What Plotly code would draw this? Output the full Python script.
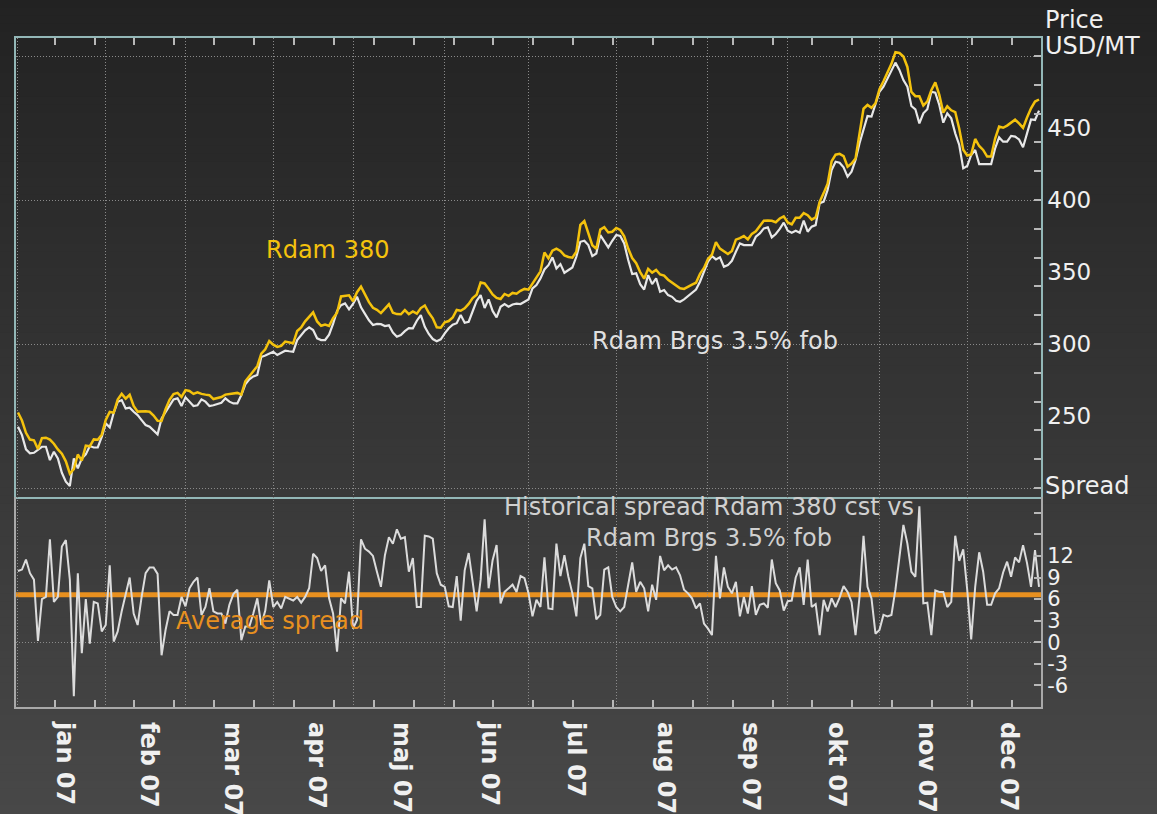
import pandas as pd
import plotly.graph_objects as go

# ---------------- data ----------------
holidays = ["2007-04-06", "2007-12-25", "2007-12-26"]
dates = [d.strftime("%Y-%m-%d") for d in pd.bdate_range("2007-01-02", "2007-12-31")
         if d.strftime("%Y-%m-%d") not in holidays]

month_labels = ["jan 07", "feb 07", "mar 07", "apr 07", "maj 07", "jun 07",
                "jul 07", "aug 07", "sep 07", "okt 07", "nov 07", "dec 07"]
price_ticks = [250, 300, 350, 400, 450]
spread_ticks = [-6, -3, 0, 3, 6, 9, 12]

# Rdam Brgs 3.5% fob, USD/MT
brgs = [
    242.6, 236.8, 226.9, 224.1, 224.5, 226.9, 228.7, 228.7, 219.4, 225.2,
    220.6, 210.6, 204.4, 201.4, 220.6, 213.7, 220.6, 223.4, 229.2, 228.2,
    228.2, 235.6, 244.9, 242.2, 252.3, 259.9, 261.1, 255.3, 255.8, 253.0,
    250.7, 247.2, 243.8, 242.6, 240.0, 237.3, 248.4, 253.0, 257.0, 261.5,
    262.3, 257.0, 263.0, 259.9, 257.0, 257.5, 261.6, 260.0, 257.0, 257.5,
    258.5, 259.2, 262.3, 260.0, 258.8, 258.8, 264.6, 272.0, 275.5, 277.5,
    278.5, 291.0, 292.0, 293.5, 294.7, 292.4, 294.0, 295.4, 295.0, 294.7,
    302.8, 306.0, 309.5, 311.6, 309.7, 304.0, 302.8, 302.8, 306.5, 314.0,
    323.0, 327.0, 328.2, 324.1, 327.8, 332.9, 325.5, 321.0, 316.5, 313.2,
    314.0, 313.8, 312.5, 313.0, 308.0, 305.1, 306.3, 309.0, 311.0, 310.9,
    316.2, 320.1, 312.0, 307.0, 303.5, 302.0, 303.3, 307.4, 311.0, 313.5,
    314.5, 320.1, 314.8, 315.5, 323.5, 330.0, 334.0, 325.0, 331.0, 323.0,
    318.5, 325.9, 327.8, 326.0, 327.5, 328.0, 327.8, 329.4, 331.0, 338.6,
    341.0, 345.6, 351.8, 354.8, 360.2, 352.5, 355.5, 349.5, 351.4, 353.2,
    360.6, 371.0, 371.7, 368.7, 361.1, 362.9, 375.7, 371.0, 367.1, 371.7,
    375.7, 375.0, 369.9, 358.3, 348.6, 349.1, 341.6, 337.9, 347.9, 341.6,
    345.6, 336.3, 337.5, 334.0, 332.8, 330.1, 329.4, 331.0, 333.3, 335.2,
    337.9, 343.3, 350.2, 357.2, 361.1, 358.8, 360.2, 353.7, 354.8, 357.8,
    364.1, 369.9, 368.7, 368.7, 368.7, 374.5, 376.8, 380.3, 381.0, 374.1,
    376.4, 380.0, 384.3, 378.7, 377.3, 378.7, 377.3, 385.7, 378.0, 381.5,
    382.6, 397.7, 398.9, 407.0, 420.8, 426.6, 425.9, 422.7, 416.2, 419.7,
    427.8, 439.4, 448.6, 458.3, 457.9, 466.0, 475.2, 478.7, 484.5, 490.8,
    495.4, 490.3, 483.3, 478.7, 465.3, 463.0, 453.2, 460.2, 463.0, 475.2,
    474.5, 466.0, 453.7, 460.2, 456.7, 446.3, 438.2, 422.0, 423.6, 431.3,
    434.7, 425.0, 425.0, 425.0, 425.0, 435.9, 443.5, 440.5, 440.5, 444.5,
    444.0, 442.1, 436.6, 446.3, 456.0, 455.6, 462.1,
]

# Historical spread Rdam 380 cst vs Rdam Brgs 3.5% fob, USD/MT
spread = [
    9.9, 10.1, 11.5, 9.6, 8.7, 0.2, 6.0, 6.3, 14.3, 5.6,
    6.3, 13.3, 14.2, 8.7, -7.5, 9.6, -1.5, 6.0, -0.2, 5.6,
    5.4, 1.5, 2.4, 10.7, 0.1, 1.5, 4.3, 6.8, 9.0, 4.0,
    2.4, 6.3, 9.6, 10.4, 10.4, 9.5, -1.8, 1.7, 4.3, 3.8,
    3.8, 6.3, 5.0, 7.5, 8.4, 9.0, 3.8, 4.9, 7.5, 4.3,
    4.0, 4.0, 2.6, 5.2, 6.7, 7.3, 0.3, 2.2, 2.2, 4.0,
    6.1, 2.4, 4.4, 8.6, 4.9, 5.6, 4.7, 6.3, 6.1, 5.8,
    6.3, 5.5, 6.3, 7.5, 12.3, 11.7, 9.9, 10.7, 6.1, 4.0,
    -1.3, 6.1, 5.4, 9.8, 1.9, 3.1, 14.3, 13.0, 12.6, 12.0,
    9.8, 7.7, 12.1, 14.6, 13.7, 15.7, 14.4, 14.6, 9.8, 11.7,
    4.9, 4.9, 14.8, 14.7, 14.4, 9.6, 8.0, 7.7, 5.0, 4.9,
    9.2, 3.0, 10.0, 12.4, 8.4, 4.3, 8.7, 17.1, 7.5, 11.4,
    13.5, 5.4, 7.0, 7.5, 8.0, 7.0, 9.2, 8.9, 6.8, 3.6,
    5.9, 4.9, 11.8, 4.7, 4.6, 13.7, 9.2, 12.1, 9.1, 6.8,
    3.6, 11.7, 13.7, 7.8, 7.5, 3.2, 3.8, 10.1, 10.4, 6.3,
    4.9, 4.3, 4.9, 8.0, 11.1, 7.0, 8.4, 7.5, 4.3, 8.0,
    5.9, 12.0, 10.0, 10.7, 10.1, 10.4, 9.3, 7.3, 6.8, 6.1,
    4.7, 5.4, 2.6, 1.9, 1.0, 12.0, 6.1, 10.4, 7.7, 6.8,
    8.4, 3.6, 6.3, 4.0, 7.8, 3.8, 5.2, 5.4, 4.8, 11.5,
    8.2, 7.2, 4.4, 5.7, 5.8, 9.0, 10.4, 5.2, 11.5, 4.9,
    5.3, 1.0, 5.9, 4.3, 6.1, 4.9, 6.2, 7.8, 7.0, 5.6,
    1.0, 6.3, 14.8, 7.7, 6.1, 1.2, 1.7, 3.8, 3.6, 3.8,
    7.3, 11.8, 16.3, 13.7, 9.8, 9.1, 18.9, 5.4, 5.5, 1.0,
    7.2, 7.0, 7.0, 4.9, 5.6, 14.8, 11.3, 12.9, 7.3, 0.4,
    7.7, 12.5, 9.8, 5.2, 5.2, 6.8, 7.5, 9.7, 11.2, 9.1,
    11.8, 11.1, 13.5, 11.0, 7.7, 12.8, 7.7,
]

avg_spread = 6.6

# Rdam 380 cst = Brgs 3.5% + spread (the spread panel is their difference)
rdam380 = [round(b + s, 1) for b, s in zip(brgs, spread)]

assert len(brgs) == len(dates) == len(spread)

# ---------------- axis helpers ----------------
n = len(dates)
month_starts = [i for i, d in enumerate(dates) if i == 0 or d[5:7] != dates[i - 1][5:7]]
bounds = month_starts + [n]
label_pos = [(bounds[k] + bounds[k + 1]) / 2 + 0.8 for k in range(len(month_starts))]

FONT = "DejaVu Sans, Verdana, sans-serif"
PRICE_FRAME = "#93b7b7"
SPREAD_FRAME = "#a9a9a9"
GRID = "#8a8a8a"
TICKC = "#b8b8b8"
TEXT = "#f0f0f0"

xr = [-0.5, n - 0.5]
pr = [194.0, 512.5]
sr = [-8.99, 20.22]
split = 0.3143

fig = go.Figure()
fig.add_trace(go.Scatter(x=dates, y=brgs, xaxis="x", yaxis="y", mode="lines",
                         name="Rdam Brgs 3.5% fob",
                         line=dict(color="#e8e8e8", width=2.2)))
fig.add_trace(go.Scatter(x=dates, y=rdam380, xaxis="x", yaxis="y", mode="lines",
                         name="Rdam 380",
                         line=dict(color="#f4c20d", width=2.5)))
fig.add_trace(go.Scatter(x=dates, y=spread, xaxis="x2", yaxis="y2", mode="lines",
                         name="Spread",
                         line=dict(color="#dcdcdc", width=2)))
# empty helper traces so that the overlay tick/grid axes are drawn
for xa, ya in (("x3", "y3"), ("x4", "y4"), ("x5", "y4")):
    fig.add_trace(go.Scatter(x=[None], y=[None], xaxis=xa, yaxis=ya, mode="lines",
                             showlegend=False, hoverinfo="skip"))

# vertical background gradient
shapes = []
nb = 100
W, H = 1157, 814
ml, mr, mt, mb = 16, 116, 38, 107
pw, ph = W - ml - mr, H - mt - mb
for k in range(nb):
    top_px = H * k / nb - 1
    bot_px = H * (k + 1) / nb + 1
    g = round(34 + (72 - 34) * ((k + 0.5) / nb))
    shapes.append(dict(type="rect", xref="paper", yref="paper",
                       x0=-ml / pw, x1=1 + mr / pw,
                       y0=(H - mb - bot_px) / ph, y1=(H - mb - top_px) / ph,
                       fillcolor=f"rgb({g},{g},{g})", line=dict(width=0), layer="below"))
# average spread line
shapes.append(dict(type="line", xref="x2 domain", yref="y2", x0=0, x1=1,
                   y0=avg_spread, y1=avg_spread,
                   line=dict(color="#e8901f", width=5), layer="below"))

def tick_style():
    return dict(ticks="inside", ticklen=7, tickwidth=1.5, tickcolor=TICKC)

layout = dict(
    width=W, height=H, autosize=False,
    margin=dict(l=ml, r=mr, t=mt, b=mb, autoexpand=False),
    paper_bgcolor="#474747", plot_bgcolor="rgba(0,0,0,0)",
    showlegend=False,
    font=dict(family=FONT, color=TEXT, size=23),
    shapes=shapes,
    # ---- price panel ----
    xaxis=dict(type="category", domain=[0, 1], anchor="y", range=xr, automargin=False,
               showticklabels=False, ticks="", showgrid=False, zeroline=False,
               showline=True, linecolor=PRICE_FRAME, linewidth=1.5, mirror=True),
    yaxis=dict(domain=[split, 1], anchor="x", side="right", range=pr, automargin=False,
               tickmode="array", tickvals=price_ticks, ticks="",
               showgrid=False, zeroline=False,
               showline=True, linecolor=PRICE_FRAME, linewidth=1.5, mirror=True,
               tickfont=dict(size=23, color=TEXT, family=FONT)),
    xaxis3=dict(type="linear", overlaying="x", anchor="y", side="top", range=xr,
                automargin=False,
                tickmode="array", tickvals=month_starts, ticks="",
                showticklabels=False, showline=False, zeroline=False,
                showgrid=True, gridcolor=GRID, griddash="1px,2px", gridwidth=1,
                minor=dict(tickmode="linear", tick0=9.2, dtick=10, showgrid=False,
                           **tick_style())),
    yaxis3=dict(type="linear", overlaying="y", anchor="x", side="right", range=pr,
                automargin=False,
                tickmode="array", tickvals=[200, 300, 400, 500],
                showticklabels=False, showline=False, zeroline=False,
                showgrid=True, gridcolor=GRID, griddash="1px,2px", gridwidth=1,
                minor=dict(tickmode="linear", tick0=200, dtick=20, showgrid=False,
                           **tick_style()),
                **tick_style()),
    # ---- spread panel ----
    xaxis2=dict(type="category", domain=[0, 1], anchor="y2", range=xr, automargin=False,
                showticklabels=False, ticks="", showgrid=False, zeroline=False,
                showline=True, linecolor=SPREAD_FRAME, linewidth=2, mirror=False),
    yaxis2=dict(domain=[0, split], anchor="x2", side="right", range=sr, automargin=False,
                tickmode="array", tickvals=spread_ticks,
                ticktext=[str(v) for v in spread_ticks], ticks="",
                showgrid=False, zeroline=False,
                showline=True, linecolor=SPREAD_FRAME, linewidth=2, mirror=True,
                tickfont=dict(size=21, color=TEXT, family=FONT)),
    xaxis4=dict(type="linear", overlaying="x2", anchor="y2", side="bottom", range=xr,
                automargin=False,
                tickmode="array", tickvals=month_starts, ticks="",
                showticklabels=False, showline=False, zeroline=False,
                showgrid=True, gridcolor=GRID, griddash="1px,2px", gridwidth=1,
                minor=dict(tickmode="linear", tick0=9.2, dtick=10, showgrid=False,
                           **tick_style())),
    yaxis4=dict(type="linear", overlaying="y2", anchor="x2", side="right", range=sr,
                automargin=False,
                tickmode="array", tickvals=[0],
                showticklabels=False, showline=False, zeroline=False,
                showgrid=True, gridcolor=GRID, griddash="1px,2px", gridwidth=1,
                minor=dict(tickmode="linear", tick0=0, dtick=3, showgrid=False,
                           **tick_style()),
                **tick_style()),
    xaxis5=dict(type="linear", overlaying="x2", anchor="y2", side="bottom", range=xr,
                automargin=False,
                tickmode="array", tickvals=label_pos, ticktext=month_labels,
                ticks="", tickangle=90, ticklabelstandoff=14,
                showgrid=False, showline=False, zeroline=False,
                tickfont=dict(size=24, color=TEXT, family=FONT, weight="bold")),
)
fig.update_layout(**layout)

def px_x(x):
    return (x - ml) / pw

def px_y(y):
    return (H - mb - y) / ph

annotations = [
    dict(text="Price", x=px_x(1043), y=px_y(20), xanchor="left", yanchor="middle",
         font=dict(size=24, color=TEXT)),
    dict(text="USD/MT", x=px_x(1043), y=px_y(46), xanchor="left", yanchor="middle",
         font=dict(size=24, color=TEXT)),
    dict(text="Spread", x=px_x(1043), y=px_y(486), xanchor="left", yanchor="middle",
         font=dict(size=24, color=TEXT)),
    dict(text="Rdam 380", x=px_x(327), y=px_y(250), xanchor="center", yanchor="middle",
         font=dict(size=24, color="#f4c20d")),
    dict(text="Rdam Brgs 3.5% fob", x=px_x(715), y=px_y(341), xanchor="center",
         yanchor="middle", font=dict(size=24, color="#e0e0e0")),
    dict(text="Historical spread Rdam 380 cst vs<br>Rdam Brgs 3.5% fob",
         x=px_x(709), y=px_y(522), xanchor="center", yanchor="middle", align="center",
         font=dict(size=24, color="#d0d0d0")),
    dict(text="Average spread", x=px_x(270), y=px_y(621), xanchor="center",
         yanchor="middle", font=dict(size=24, color="#e8901f")),
]
for a in annotations:
    a.update(xref="paper", yref="paper", showarrow=False)
fig.update_layout(annotations=annotations)

fig.write_html("out.html",
               config={"responsive": False, "displayModeBar": False},
               post_script="document.documentElement.style.overflow='hidden';"
                           "document.body.style.overflow='hidden';"
                           "document.body.style.margin='0';"
                           "document.body.style.background='#474747';")
